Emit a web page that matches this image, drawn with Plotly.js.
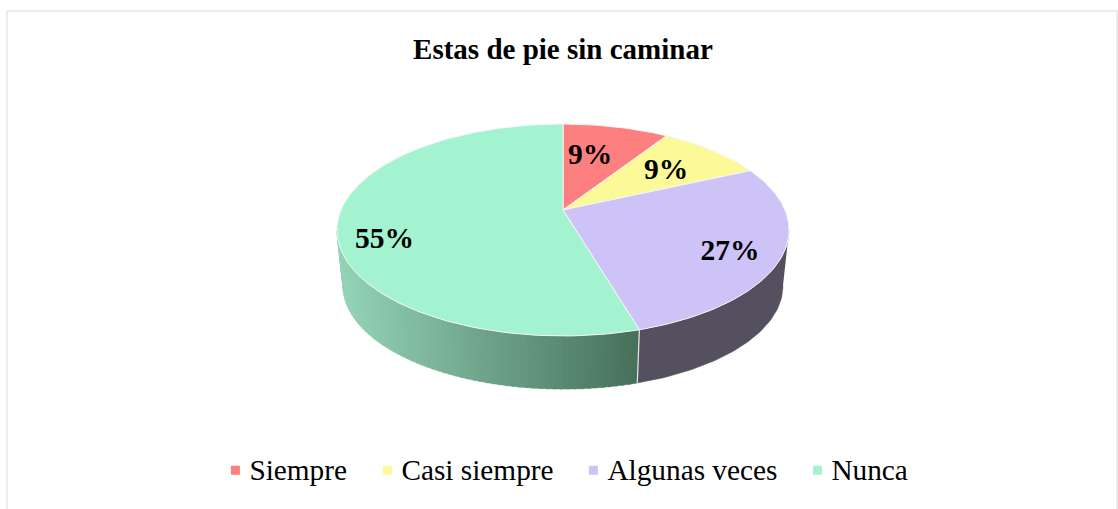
<!DOCTYPE html>
<html><head><meta charset="utf-8">
<script src="https://cdn.plot.ly/plotly-3.0.1.min.js"></script>
<style>html,body{margin:0;padding:0;background:#fff}#c{width:1118px;height:509px}</style>
</head><body><div id="c"></div>
<script>
// Data
const categories = ["Siempre", "Casi siempre", "Algunas veces", "Nunca"];
const counts = [1, 1, 3, 6];
const colors = ["#FE7F7F", "#FBF998", "#CDC3F6", "#A3F3D0"];
const labelOffsets = [[27, 53.5], [103, 38.5], [167, -43], [-178.5, -31]];
const legendLeft = [209.4, 361.4, 567.4, 791.4];

// Tilted disc geometry (axes run in page units)
const cx = 563, apexTop = 210, apexLow = 266.5, lowScale = 0.973;
const persp = 0.1887, xr = 222, yr = 102.2;
function rim(deg, low) {
  const t = deg * Math.PI / 180, X = Math.sin(t), Y = Math.cos(t), d = 1 + persp * Y;
  const s = low ? lowScale : 1, a = low ? apexLow : apexTop;
  return [cx + s * xr * X / d, a - s * yr * Y / d];
}
function arc(a0, a1, low) {
  const n = Math.max(2, Math.ceil(Math.abs(a1 - a0))), p = [];
  for (let i = 0; i <= n; i++) p.push(rim(a0 + (a1 - a0) * i / n, low));
  return p;
}
const total = counts.reduce((a, b) => a + b, 0);
const edges = [0];
counts.forEach(v => edges.push(edges[edges.length - 1] + v / total * 360));
const pct = counts.map(v => Math.round(v / total * 100) + "%");

function poly(points, fill, line, lw) {
  return {type: "scatter", mode: "lines", x: points.map(p => p[0]), y: points.map(p => p[1]),
    fill: "toself", fillcolor: fill, line: {color: line, width: lw}, showlegend: false, hoverinfo: "skip"};
}
const traces = [];
const leftTangent = 259.1, rightTangent = 100.9;

// Side wall: flat lilac section
traces.push(poly(arc(rightTangent, edges[3], false).concat(arc(edges[3], rightTangent, true)), "#55505F", "#55505F", 0.5));

// Side wall: shaded green section, steps coloured by position
const shadeL = [147, 211, 182], shadeR = [70, 112, 90];
for (let a = edges[3]; a < leftTangent; a += 1.5) {
  const b = Math.min(a + 2, leftTangent);
  const xm = rim((a + b) / 2, false)[0];
  const f = Math.min(1, Math.max(0, (xm - 340) / 298));
  const c = shadeL.map((v, i) => Math.round(v + (shadeR[i] - v) * f));
  const col = `rgb(${c.join(",")})`;
  traces.push(poly([rim(a, false), rim(b, false), rim(b, true), rim(a, true), rim(a, false)], col, col, 0.5));
}
// White seam between the two visible wall sections
const seam = [rim(edges[3], false), rim(edges[3], true)];
traces.push({type: "scatter", mode: "lines", x: seam.map(p => p[0]), y: seam.map(p => p[1]),
  line: {color: "#e8e8ee", width: 1.2}, showlegend: false, hoverinfo: "skip"});

// Lid slices
counts.forEach((v, i) => {
  const pts = [[cx, apexTop]].concat(arc(edges[i], edges[i + 1], false), [[cx, apexTop]]);
  traces.push(poly(pts, colors[i], "#f6f6f6", 1));
});

// Slice labels
traces.push({type: "scatter", mode: "text",
  x: labelOffsets.map(o => cx + o[0]), y: labelOffsets.map(o => apexTop - o[1]),
  text: pct, textposition: "middle center", cliponaxis: false,
  textfont: {family: "Liberation Serif", size: 29.5, color: "#000", weight: 700},
  showlegend: false, hoverinfo: "skip"});

// Legend entries, one positioned legend per category so the spacing follows the reference
const legendIds = ["legend", "legend2", "legend3", "legend4"];
categories.forEach((name, i) => traces.push({type: "scatter", mode: "markers", name, legend: legendIds[i],
  x: [null], y: [null], marker: {symbol: "square", size: 9, color: colors[i]}, hoverinfo: "skip"}));

const layout = {
  width: 1118, height: 509, margin: {l: 0, r: 0, t: 0, b: 0},
  paper_bgcolor: "#fff", plot_bgcolor: "#fff",
  font: {family: "Liberation Serif", color: "#000"},
  title: {text: "<b>Estas de pie sin caminar</b>", font: {family: "Liberation Serif", size: 29, color: "#000"},
    x: 0.5035, xanchor: "center", y: 0.905, yanchor: "middle"},
  xaxis: {range: [0, 1118], visible: false, fixedrange: true},
  yaxis: {range: [509, 0], visible: false, fixedrange: true},
  shapes: [{type: "rect", xref: "x", yref: "y", x0: 7, x1: 1117, y0: 11, y1: 530,
    line: {color: "#ececec", width: 2}, fillcolor: "rgba(0,0,0,0)", layer: "below"}],
  showlegend: true
};
legendIds.forEach((id, i) => {
  layout[id] = {orientation: "h", x: legendLeft[i] / 1118, xanchor: "left", y: 0.079, yanchor: "middle",
    font: {family: "Liberation Serif", size: 29.3, color: "#000"}, bgcolor: "rgba(0,0,0,0)", itemwidth: 30};
});
Plotly.newPlot("c", traces, layout, {displayModeBar: false, staticPlot: true}).then(gd => {
  // Swatches sit closer to their text in the reference
  gd.querySelectorAll("g.legendpoints").forEach(g => g.setAttribute("transform", "translate(6,2)"));
});
</script></body></html>
